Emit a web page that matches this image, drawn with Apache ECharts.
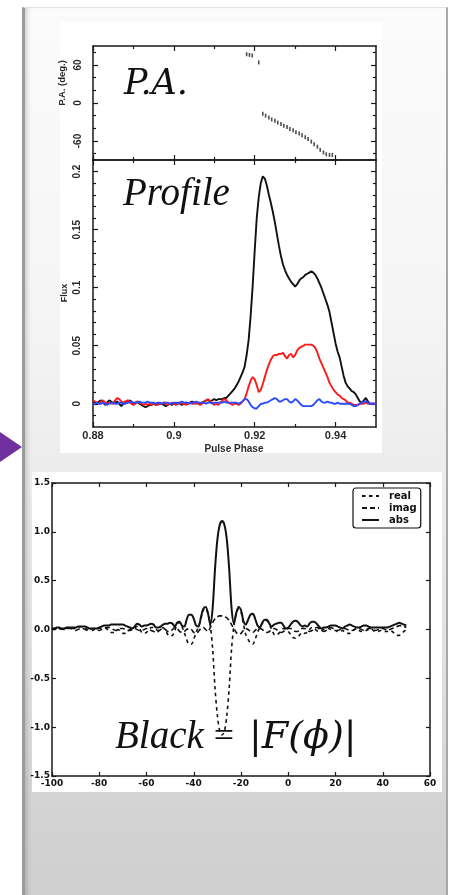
<!DOCTYPE html>
<html><head><meta charset="utf-8">
<script src="https://cdn.jsdelivr.net/npm/echarts@6/dist/echarts.min.js"></script>
<style>
html,body{margin:0;padding:0;background:#fff;width:450px;height:895px;overflow:hidden;}
#card{position:absolute;left:22px;top:7px;width:421px;height:900px;
 background:linear-gradient(to bottom,#fbfbfb 0px,#f5f5f5 300px,#ececec 465px,#dedede 680px,#d3d3d3 800px,#cfcfcf 888px);
 border-left:3px solid #9c9c9c;border-right:2px solid #a8a8a8;border-top:1px solid #e3e3e3;
 box-shadow: inset 5px 0 5px -3px rgba(0,0,0,0.18);}
#img1{position:absolute;left:60px;top:22px;width:322px;height:431px;background:#fff;}
#img2{position:absolute;left:32px;top:472px;width:410px;height:320px;background:#fff;}
#arrow{position:absolute;left:0;top:432px;width:0;height:0;border-top:15.5px solid transparent;border-bottom:15.5px solid transparent;border-left:22px solid #7030a0;}
#chart{position:absolute;left:0;top:0;width:450px;height:895px;}
</style></head>
<body>
<div id="card"></div><div id="img1"></div><div id="img2"></div><div id="arrow"></div>
<div id="chart"></div>
<script>
// ---------- P.A. panel ----------
const paPhase = [0.9180,0.9187,0.9194,0.9210,
  0.9220,0.9227,0.9235,0.9242,0.9250,0.9257,0.9265,0.9272,0.9280,0.9287,0.9295,0.9302,
  0.9310,0.9317,0.9325,0.9332,0.9340,0.9347,0.9355,0.9362,0.9370,0.9377,0.9385,0.9392];
const paAngle = [77,76,75,64,
  -17,-20,-23,-26,-28,-31,-33,-36,-38,-41,-43,-46,
  -48,-51,-54,-57,-61,-65,-69,-74,-78,-81,-82,-82];
const paYMajor = [-60,0,60];
const paYMinor = [-80,-40,-20,20,40,80];

// ---------- Profile panel ----------
const phase = [
 0.8800,0.8805,0.8810,0.8815,0.8820,0.8825,0.8830,0.8835,0.8840,0.8845,
 0.8850,0.8855,0.8860,0.8865,0.8870,0.8875,0.8880,0.8885,0.8890,0.8895,
 0.8900,0.8905,0.8910,0.8915,0.8920,0.8925,0.8930,0.8935,0.8940,0.8945,
 0.8950,0.8955,0.8960,0.8965,0.8970,0.8975,0.8980,0.8985,0.8990,0.8995,
 0.9000,0.9005,0.9010,0.9015,0.9020,0.9025,0.9030,0.9035,0.9040,0.9045,
 0.9050,0.9055,0.9060,0.9065,0.9070,0.9075,0.9080,0.9085,0.9090,0.9095,
 0.9100,0.9105,0.9110,0.9115,0.9120,0.9125,0.9130,0.9135,0.9140,0.9145,
 0.9150,0.9155,0.9160,0.9165,0.9170,0.9175,0.9180,0.9185,0.9190,0.9195,
 0.9200,0.9205,0.9210,0.9215,0.9220,0.9225,0.9230,0.9235,0.9240,0.9245,
 0.9250,0.9255,0.9260,0.9265,0.9270,0.9275,0.9280,0.9285,0.9290,0.9295,
 0.9300,0.9305,0.9310,0.9315,0.9320,0.9325,0.9330,0.9335,0.9340,0.9345,
 0.9350,0.9355,0.9360,0.9365,0.9370,0.9375,0.9380,0.9385,0.9390,0.9395,
 0.9400,0.9405,0.9410,0.9415,0.9420,0.9425,0.9430,0.9435,0.9440,0.9445,
 0.9450,0.9455,0.9460,0.9465,0.9470,0.9475,0.9480,0.9485,0.9490,0.9495,
 0.9500];
const fluxTotal = [
 0.002,0.001,0.000,0.002,0.003,0.001,-0.001,0.001,0.003,0.002,
 0.000,0.001,0.002,0.000,-0.002,0.000,0.002,0.001,0.003,0.002,
 0.000,0.001,0.002,0.000,-0.001,-0.002,-0.003,-0.002,-0.001,-0.001,
 0.000,-0.001,0.000,0.000,0.000,-0.001,-0.002,-0.001,0.000,-0.001,
 0.000,0.000,0.001,0.000,-0.001,0.000,0.001,0.000,0.001,0.002,
 0.001,0.000,0.001,0.000,0.001,0.002,0.003,0.003,0.002,0.003,
 0.004,0.003,0.004,0.004,0.004,0.005,0.005,0.007,0.009,0.011,
 0.013,0.016,0.019,0.023,0.027,0.032,0.042,0.055,0.076,0.102,
 0.132,0.160,0.178,0.190,0.196,0.194,0.188,0.180,0.173,0.165,
 0.156,0.146,0.136,0.127,0.120,0.115,0.111,0.108,0.105,0.103,
 0.101,0.103,0.106,0.108,0.109,0.111,0.112,0.113,0.114,0.113,
 0.111,0.108,0.104,0.100,0.095,0.090,0.085,0.079,0.070,0.061,
 0.052,0.045,0.040,0.032,0.024,0.018,0.015,0.013,0.011,0.010,
 0.008,0.005,0.002,0.001,0.003,0.005,0.002,0.000,0.000,0.000,
 0.000];
const fluxLinear = [
 0.003,0.002,0.001,0.000,0.002,0.003,0.001,0.000,0.001,0.000,
 0.001,0.003,0.005,0.004,0.002,0.001,0.002,0.003,0.002,0.000,
 -0.001,0.000,0.002,0.001,0.000,-0.001,0.000,-0.001,0.000,-0.001,
 0.000,0.000,-0.001,0.000,0.000,0.001,0.000,-0.001,0.000,0.001,
 0.000,-0.001,0.000,0.001,0.000,0.000,-0.001,0.000,0.001,0.000,
 0.000,0.001,0.000,-0.001,0.000,0.001,0.003,0.004,0.002,0.001,
 -0.001,0.000,-0.001,0.001,0.003,0.004,0.003,0.001,0.000,-0.001,
 0.000,0.000,-0.001,0.000,0.002,0.004,0.009,0.015,0.020,0.023,
 0.021,0.016,0.010,0.012,0.017,0.023,0.029,0.034,0.038,0.041,
 0.042,0.042,0.043,0.043,0.044,0.041,0.039,0.042,0.043,0.040,
 0.042,0.046,0.048,0.049,0.050,0.051,0.051,0.051,0.051,0.050,
 0.048,0.044,0.039,0.035,0.031,0.027,0.023,0.018,0.015,0.012,
 0.010,0.008,0.007,0.005,0.004,0.003,0.001,0.001,0.000,-0.001,
 -0.001,-0.001,0.000,0.000,0.000,0.001,0.000,0.000,0.000,0.000,
 0.000];
const fluxCircular = [
 0.000,0.000,0.001,0.000,0.000,0.001,0.000,-0.001,0.000,0.001,
 0.001,0.000,0.000,0.001,0.001,0.000,0.000,0.001,0.001,0.002,
 0.001,0.001,0.001,0.002,0.001,0.001,0.001,0.002,0.001,0.001,
 0.001,0.000,0.001,0.001,0.000,0.001,0.001,0.001,0.000,0.000,
 0.001,0.001,0.000,0.001,0.002,0.001,0.001,0.001,0.000,0.001,
 0.001,0.002,0.001,0.001,0.001,0.001,0.000,0.001,0.001,0.000,
 0.001,0.001,0.001,0.001,0.001,0.002,0.001,0.001,0.001,0.001,
 0.001,0.001,0.000,0.001,0.002,0.004,0.004,0.002,-0.001,-0.003,
 -0.004,-0.004,-0.002,0.000,0.000,0.001,0.001,0.002,0.003,0.004,
 0.005,0.004,0.002,0.002,0.003,0.004,0.004,0.002,0.001,0.002,
 0.004,0.003,0.001,-0.001,-0.002,-0.002,-0.002,-0.002,-0.002,-0.001,
 0.001,0.003,0.004,0.002,0.001,0.001,0.002,0.001,0.001,0.000,
 0.000,0.001,0.000,0.000,0.000,0.000,0.000,0.000,-0.001,-0.002,
 -0.002,-0.001,0.000,0.001,0.002,0.002,0.001,0.000,0.000,0.000,
 0.000];
const phaseMajor = [0.88,0.90,0.92,0.94];
const phaseMinor = [0.89,0.91,0.93];
const fluxMajor = [0,0.05,0.1,0.15,0.2];
const fluxMinor = [-0.01,0.01,0.02,0.03,0.04,0.06,0.07,0.08,0.09,0.11,0.12,0.13,0.14,0.16,0.17,0.18,0.19];

// ---------- Fourier panel ----------
const lag = [
 -100,-99,-98,-97,-96,-95,-94,-93,-92,-91,
 -90,-89,-88,-87,-86,-85,-84,-83,-82,-81,
 -80,-79,-78,-77,-76,-75,-74,-73,-72,-71,
 -70,-69,-68,-67,-66,-65,-64,-63,-62,-61,
 -60,-59,-58,-57,-56,-55,-54,-53,-52,-51,
 -50,-49,-48,-47,-46,-45,-44,-43,-42,-41,
 -40,-39,-38,-37,-36,-35,-34,-33,-32,-31,
 -30,-29,-28,-27,-26,-25,-24,-23,-22,-21,
 -20,-19,-18,-17,-16,-15,-14,-13,-12,-11,
 -10,-9,-8,-7,-6,-5,-4,-3,-2,-1,
 0,1,2,3,4,5,6,7,8,9,
 10,11,12,13,14,15,16,17,18,19,
 20,21,22,23,24,25,26,27,28,29,
 30,31,32,33,34,35,36,37,38,39,
 40,41,42,43,44,45,46,47,48,49,
 50];
const realPart = [
 0.01,0.01,0.02,0.01,0.00,0.00,0.01,0.02,0.02,0.01,
 0.01,0.02,0.03,0.02,0.01,0.00,-0.01,-0.01,0.00,0.01,
 0.01,0.02,0.02,0.01,-0.01,-0.03,-0.03,-0.02,0.00,-0.02,
 -0.04,-0.04,-0.02,0.00,0.01,0.02,0.03,0.01,-0.03,-0.04,
 -0.03,0.00,0.02,0.02,0.00,-0.01,0.00,0.02,-0.01,-0.05,
 -0.07,-0.06,-0.01,0.06,0.07,0.03,-0.03,-0.10,-0.15,-0.15,
 -0.10,-0.03,0.03,0.11,0.20,0.22,0.16,0.04,-0.20,-0.60,
 -0.88,-1.04,-1.08,-1.04,-0.88,-0.60,-0.20,0.04,0.16,0.21,
 0.18,0.06,-0.05,-0.10,-0.14,-0.15,-0.10,-0.03,0.02,0.06,
 0.09,0.09,0.05,0.00,-0.05,-0.06,-0.04,-0.01,0.01,0.00,
 -0.02,-0.05,-0.08,-0.09,-0.08,-0.05,-0.03,-0.04,-0.03,0.00,
 0.02,0.01,-0.01,-0.02,-0.01,0.00,0.01,0.01,0.00,-0.01,
 -0.01,-0.02,-0.02,-0.01,-0.03,-0.04,-0.04,-0.02,0.00,0.01,
 -0.01,-0.02,-0.02,-0.01,0.00,0.01,-0.01,-0.02,-0.02,-0.01,
 -0.01,-0.02,-0.02,-0.01,-0.02,-0.04,-0.06,-0.06,-0.04,-0.02,
 0.00];
const imagPart = [
 0.00,0.00,0.01,0.01,0.01,0.00,0.00,0.01,0.01,0.00,
 -0.01,0.00,0.01,0.01,0.00,-0.01,0.00,0.01,0.01,0.00,
 -0.01,0.00,0.01,0.02,0.02,0.01,0.00,-0.01,0.00,0.01,
 0.01,0.00,-0.01,-0.01,0.00,0.01,0.00,-0.01,-0.01,0.00,
 0.01,0.00,-0.01,-0.02,-0.03,-0.02,0.00,0.01,0.00,-0.02,
 -0.02,0.00,0.02,0.01,-0.02,-0.03,-0.02,0.00,0.01,0.00,
 -0.03,-0.04,-0.02,0.01,0.02,0.00,-0.02,0.02,0.07,0.11,
 0.13,0.14,0.14,0.13,0.12,0.09,0.05,0.01,-0.03,-0.05,
 -0.04,-0.01,0.01,0.00,-0.02,-0.03,-0.01,0.01,0.01,0.00,
 -0.02,-0.03,-0.02,0.00,0.01,0.00,-0.02,-0.03,-0.02,0.00,
 0.01,0.01,0.00,-0.02,-0.02,0.00,0.01,0.01,-0.01,-0.02,
 -0.01,0.01,0.02,0.01,-0.01,-0.02,-0.01,0.01,0.02,0.01,
 0.00,-0.01,0.00,0.01,0.01,0.00,-0.01,-0.01,0.00,0.01,
 0.01,0.00,-0.01,0.00,0.01,0.01,0.00,-0.01,0.00,0.01,
 0.01,0.00,-0.01,0.00,0.01,0.02,0.03,0.04,0.04,0.03,
 0.02];
const absPart = [
 0.01,0.01,0.02,0.02,0.01,0.01,0.02,0.02,0.02,0.02,
 0.02,0.03,0.03,0.03,0.03,0.02,0.01,0.01,0.01,0.01,
 0.02,0.03,0.04,0.04,0.04,0.05,0.05,0.05,0.05,0.05,
 0.05,0.04,0.03,0.02,0.01,0.03,0.06,0.05,0.03,0.04,
 0.04,0.05,0.06,0.05,0.02,0.02,0.03,0.05,0.06,0.06,
 0.07,0.06,0.03,0.07,0.08,0.04,0.03,0.10,0.15,0.15,
 0.11,0.04,0.03,0.12,0.21,0.23,0.17,0.05,0.22,0.62,
 0.92,1.07,1.11,1.07,0.92,0.62,0.22,0.06,0.17,0.23,
 0.20,0.09,0.05,0.10,0.15,0.16,0.11,0.04,0.02,0.07,
 0.10,0.10,0.06,0.03,0.05,0.06,0.07,0.07,0.04,0.01,
 0.02,0.05,0.08,0.09,0.08,0.05,0.03,0.04,0.03,0.06,
 0.08,0.08,0.06,0.03,0.01,0.02,0.02,0.03,0.04,0.04,
 0.04,0.03,0.02,0.01,0.03,0.04,0.05,0.04,0.03,0.02,
 0.02,0.03,0.04,0.04,0.03,0.02,0.02,0.02,0.02,0.02,
 0.02,0.02,0.02,0.03,0.04,0.05,0.06,0.07,0.06,0.05,
 0.04];
const lagTicks = [-100,-80,-60,-40,-20,0,20,40,60];
const ampTicks = [-1.5,-1.0,-0.5,0.0,0.5,1.0,1.5];
const seriesNames = ['real','imag','abs'];

// ---------- build ----------
const AX = '#1a1a1a';
const xAxes = [], yAxes = [];
function addBox(grid, xr, yr, xMaj, xMin, yMaj, yMin, xLab, yLab, tl, ml) {
  const ix = xAxes.length, iy = yAxes.length;
  const base = (r) => ({gridIndex: grid, type: 'value', min: r[0], max: r[1], splitLine: {show: false}, axisPointer: {show: false}, silent: true});
  const line = {show: true, onZero: false, lineStyle: {color: AX, width: 1.5}};
  const noLine = {show: false, onZero: false};
  const tick = (v, len) => ({show: true, inside: true, length: len, customValues: v, lineStyle: {color: AX, width: 1.2}});
  ['bottom', 'top'].forEach(pos => {
    xAxes.push(Object.assign(base(xr), {position: pos, axisLine: line, axisTick: tick(xMaj, tl),
      axisLabel: (pos === 'bottom' && xLab) ? Object.assign({customValues: xMaj}, xLab) : {show: false}}));
    if (xMin) xAxes.push(Object.assign(base(xr), {position: pos, axisLine: noLine, axisTick: tick(xMin, ml), axisLabel: {show: false}}));
  });
  ['left', 'right'].forEach(pos => {
    yAxes.push(Object.assign(base(yr), {position: pos, axisLine: line, axisTick: tick(yMaj, tl),
      axisLabel: (pos === 'left' && yLab) ? Object.assign({customValues: yMaj}, yLab) : {show: false}}));
    if (yMin) yAxes.push(Object.assign(base(yr), {position: pos, axisLine: noLine, axisTick: tick(yMin, ml), axisLabel: {show: false}}));
  });
  return {x: ix, y: iy};
}
const lblFont = {fontFamily: 'Liberation Sans, Arial, sans-serif', fontWeight: 'bold', color: '#2a2a2a'};
const pa = addBox(0, [0.88, 0.95], [-90, 90], phaseMajor, phaseMinor, paYMajor, paYMinor,
  null, Object.assign({rotate: 90, margin: 10, fontSize: 10}, lblFont), 5, 3);
const pr = addBox(1, [0.88, 0.95], [-0.02, 0.21], phaseMajor, phaseMinor, fluxMajor, fluxMinor,
  Object.assign({margin: 3, fontSize: 11}, lblFont), Object.assign({rotate: 90, margin: 11, fontSize: 10}, lblFont), 5, 3);
const ffFont = {fontFamily: 'DejaVu Sans, sans-serif', fontWeight: 'bold', color: '#111', fontSize: 9};
const ff = addBox(2, [-100, 60], [-1.5, 1.5], lagTicks, null, ampTicks, null,
  Object.assign({margin: 3}, ffFont), Object.assign({margin: 2, formatter: v => Number(v).toFixed(1)}, ffFont), 4, 3);

const zip = (a, b) => a.map((v, i) => [v, b[i]]);
const lineS = (name, xi, yi, xs, ys, color, width, type, smooth) => ({
  name, type: 'line', xAxisIndex: xi, yAxisIndex: yi, data: zip(xs, ys), showSymbol: false, symbol: 'none',
  smooth: smooth || false, lineStyle: {color, width, type: type || 'solid'}, itemStyle: {color}, z: 3
});

const chart = echarts.init(document.getElementById('chart'), null, {renderer: 'canvas'});
chart.setOption({
  animation: false,
  textStyle: {fontFamily: 'Liberation Sans, Arial, sans-serif'},
  grid: [
    {left: 93, top: 46, width: 283, height: 114},
    {left: 93, top: 160, width: 283, height: 267},
    {left: 52, top: 483, width: 378, height: 293}
  ],
  xAxis: xAxes,
  yAxis: yAxes,
  legend: {
    data: seriesNames, orient: 'vertical', left: 353, top: 488,
    itemWidth: 17, itemHeight: 8, itemGap: 2,
    padding: [3, 4, 3, 8], borderColor: '#111', borderWidth: 1.2, borderRadius: 3,
    backgroundColor: '#fff',
    itemStyle: {color: 'rgba(0,0,0,0)', borderColor: 'rgba(0,0,0,0)', borderWidth: 0, opacity: 0},
    textStyle: {fontFamily: 'DejaVu Sans, sans-serif', fontWeight: 'bold', fontSize: 10, color: '#111', padding: [0, 0, 0, 5]},
    selectedMode: false
  },
  series: [
    {type: 'scatter', xAxisIndex: pa.x, yAxisIndex: pa.y, data: zip(paPhase, paAngle),
     symbol: 'rect', symbolSize: [1.6, 4], itemStyle: {color: '#222'}, silent: true},
    lineS('I', pr.x, pr.y, phase, fluxTotal, '#111111', 1.9),
    lineS('L', pr.x, pr.y, phase, fluxLinear, '#ff1a1a', 1.9),
    lineS('V', pr.x, pr.y, phase, fluxCircular, '#2a4bff', 1.9),
    lineS('real', ff.x, ff.y, lag, realPart, '#111111', 1.6, [3.5, 3.5], 0.3),
    lineS('imag', ff.x, ff.y, lag, imagPart, '#111111', 1.6, [5, 3], 0.3),
    lineS('abs', ff.x, ff.y, lag, absPart, '#111111', 2, 'solid', 0.3)
  ],
  graphic: [
    {type: 'text', x: 62, y: 83, rotation: Math.PI / 2, style: {text: 'P.A. (deg.)', align: 'center', verticalAlign: 'middle', font: 'bold 9.5px "Liberation Sans", Arial, sans-serif', fill: '#2a2a2a'}},
    {type: 'text', x: 65, y: 293, rotation: Math.PI / 2, style: {text: 'Flux', align: 'center', verticalAlign: 'middle', font: 'bold 9px "Liberation Sans", Arial, sans-serif', fill: '#2a2a2a'}},
    {type: 'text', x: 234, y: 449, style: {text: 'Pulse Phase', align: 'center', verticalAlign: 'middle', font: 'bold 10px "Liberation Sans", Arial, sans-serif', fill: '#2a2a2a'}},
    {type: 'text', x: 124, y: 85, z: 100, style: {text: 'P.A.', align: 'left', verticalAlign: 'middle', font: 'italic 35px "DejaVu Serif", "Liberation Serif", serif', fill: '#111'}},
    {type: 'text', x: 123, y: 195, z: 100, style: {text: 'Profile', align: 'left', verticalAlign: 'middle', font: 'italic 39px "Liberation Serif", "DejaVu Serif", serif', fill: '#111'}},
    {type: 'text', x: 115, y: 738, z: 100, style: {text: 'Black', align: 'left', verticalAlign: 'middle', font: 'italic 39px "Liberation Serif", "DejaVu Serif", serif', fill: '#111'}},
    {type: 'text', x: 224, y: 738, z: 100, style: {text: '=', align: 'center', verticalAlign: 'middle', font: '36px "Liberation Serif", "DejaVu Serif", serif', fill: '#111'}},
    {type: 'text', x: 249, y: 738, z: 100, style: {text: '|F(ϕ)|', align: 'left', verticalAlign: 'middle', font: 'italic 38px "DejaVu Serif", "Liberation Serif", serif', fill: '#111'}}
  ]
});
</script>
</body></html>
